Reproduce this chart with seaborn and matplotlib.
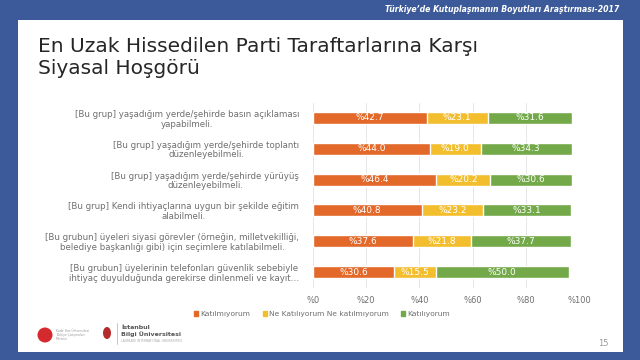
import matplotlib.pyplot as plt
import matplotlib.patches as mpatches
import numpy as np
import pandas as pd
import seaborn as sns

statements = [
    "[Bu grup] yaşadığım yerde/şehirde basın açıklaması\nyapabilmeli.",
    "[Bu grup] yaşadığım yerde/şehirde toplantı\ndüzenleyebilmeli.",
    "[Bu grup] yaşadığım yerde/şehirde yürüyüş\ndüzenleyebilmeli.",
    "[Bu grup] Kendi ihtiyaçlarına uygun bir şekilde eğitim\nalabilmeli.",
    "[Bu grubun] üyeleri siyasi görevler (örneğin, milletvekilliği,\nbelediye başkanlığı gibi) için seçimlere katılabilmeli.",
    "[Bu grubun] üyelerinin telefonları güvenlik sebebiyle\nihtiyaç duyulduğunda gerekirse dinlenmeli ve kayıt…",
]
disagree = [42.7, 44.0, 46.4, 40.8, 37.6, 30.6]
neutral = [23.1, 19.0, 20.2, 23.2, 21.8, 15.5]
agree = [31.6, 34.3, 30.6, 33.1, 37.7, 50.0]
series_names = ["Katılmıyorum", "Ne Katılıyorum Ne katılmıyorum", "Katılıyorum"]
x_ticks = [0, 20, 40, 60, 80, 100]

colors = ["#E2692A", "#F3BE2E", "#74A94A"]
blue = "#3C5A9A"
grey = "#6E6E6E"

df = pd.DataFrame({"statement": statements, "dis": disagree, "neu": neutral, "agr": agree})
df["c1"] = df["dis"]
df["c2"] = df["dis"] + df["neu"]
df["c3"] = df["c2"] + df["agr"]

sns.set_style("white")
plt.rcParams["font.family"] = ["DejaVu Sans"]

fig = plt.figure(figsize=(6.4, 3.6), dpi=100, facecolor=blue)
# white slide panel
fig.patches.append(mpatches.Rectangle((18 / 640, 1 - 352 / 360), 605 / 640, 332 / 360,
                                      transform=fig.transFigure, facecolor="white",
                                      edgecolor="none", zorder=-1))

fig.text(619 / 640, 1 - 10 / 360, "Türkiye’de Kutuplaşmanın Boyutları Araştırması-2017",
         color="white", fontsize=5.6, fontweight="bold", style="italic",
         ha="right", va="center")
fig.text(38 / 640, 1 - 57.5 / 360, "En Uzak Hissedilen Parti Taraftarlarına Karşı\nSiyasal Hoşgörü",
         color="#262626", fontsize=14.5, ha="left", va="center", linespacing=1.2)

ax = fig.add_axes([313 / 640, 1 - 287.5 / 360, 266 / 640, 185 / 360])
ax.set_facecolor("white")

# stacked bars: draw cumulative totals back to front
for col, c in zip(["c3", "c2", "c1"], colors[::-1]):
    sns.barplot(data=df, x=col, y="statement", color=c, width=0.39,
                saturation=1, ax=ax, zorder=3)

for i in range(len(statements)):
    lefts = [0, disagree[i], disagree[i] + neutral[i]]
    for left, val in zip(lefts, [disagree[i], neutral[i], agree[i]]):
        ax.text(left + val / 2, i, f"%{val:.1f}", color="white", fontsize=6.5,
                ha="center", va="center", zorder=4)

ax.set_xlim(0, 100)
ax.set_xticks(x_ticks)
ax.set_xticklabels([f"%{t}" for t in x_ticks])
ax.grid(axis="x", color="#E6E6E6", linewidth=0.7, zorder=0)
ax.set_xlabel("")
ax.set_ylabel("")
for s in ax.spines.values():
    s.set_visible(False)
ax.tick_params(axis="x", length=0, labelsize=6, labelcolor=grey, pad=6)
ax.tick_params(axis="y", length=0, labelsize=6.2, labelcolor=grey, pad=10)
for lbl in ax.get_yticklabels():
    lbl.set_multialignment("center")
    lbl.set_linespacing(1.1)

handles = [mpatches.Patch(color=c, label=n) for c, n in zip(colors, series_names)]
fig.legend(handles=handles, loc="center", bbox_to_anchor=(322 / 640, 1 - 314 / 360),
           ncol=3, frameon=False, fontsize=5.4, handlelength=0.55, handleheight=0.55,
           handletextpad=0.3, columnspacing=1.6, labelcolor=grey)

# footer: simplified logos
fig.patches.append(mpatches.Ellipse((45 / 640, 1 - 335 / 360), 15 / 640, 15 / 360,
                                    transform=fig.transFigure, facecolor="#D42A2E",
                                    edgecolor="none", zorder=1))
fig.text(56 / 640, 1 - 335 / 360, "Kadir Has Üniversitesi\nTürkiye Çalışmaları\nMerkezi",
         color="#999999", fontsize=2.2, ha="left", va="center", linespacing=1.1)
fig.patches.append(mpatches.Ellipse((107 / 640, 1 - 333 / 360), 8 / 640, 12 / 360,
                                    transform=fig.transFigure, facecolor="#B52A2A",
                                    edgecolor="none", zorder=1))
fig.add_artist(plt.Line2D([117 / 640, 117 / 640], [1 - 344 / 360, 1 - 323 / 360],
                          transform=fig.transFigure, color="#BBBBBB", linewidth=0.6))
fig.text(121 / 640, 1 - 331 / 360, "İstanbul\nBilgi Üniversitesi", color="#555555",
         fontsize=4.5, fontweight="bold", ha="left", va="center", linespacing=1.1)
fig.text(121 / 640, 1 - 341 / 360, "LAUREATE INTERNATIONAL UNIVERSITIES", color="#AAAAAA",
         fontsize=2.2, ha="left", va="center")
fig.text(603 / 640, 1 - 343 / 360, "15", color="#9A9A9A", fontsize=6, ha="center", va="center")

fig.savefig("out.png", dpi=100, facecolor=blue)
